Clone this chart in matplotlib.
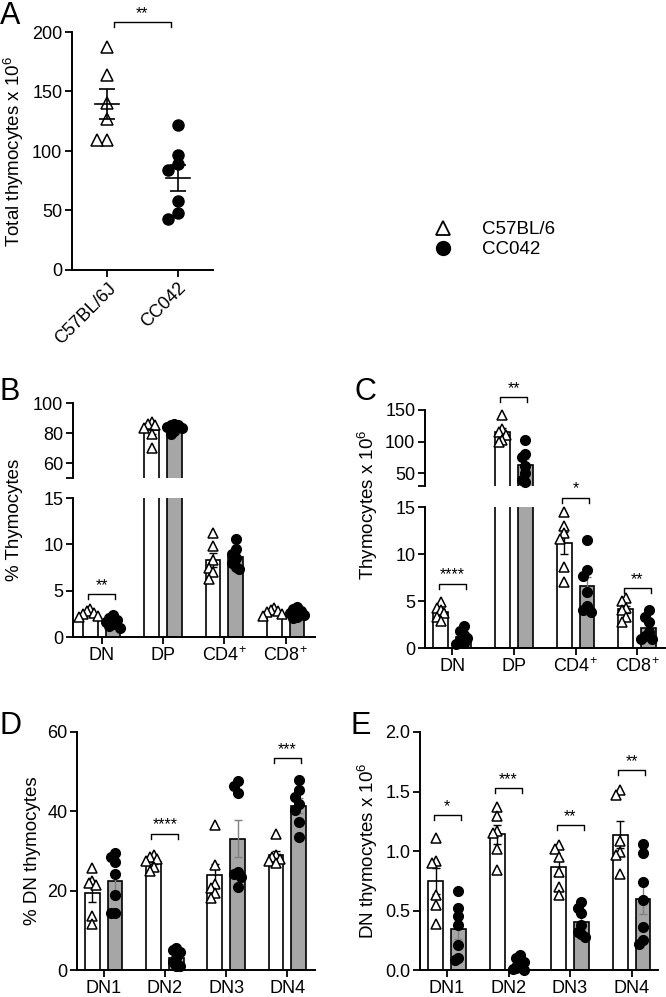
import numpy as np
import matplotlib.pyplot as plt
from matplotlib.lines import Line2D

plt.rcParams['font.family'] = ['Liberation Sans', 'DejaVu Sans']
plt.rcParams['mathtext.fontset'] = 'custom'
plt.rcParams['mathtext.rm'] = 'Liberation Sans'
plt.rcParams['mathtext.default'] = 'regular'

# ---- dane ----
# A: total thymocytes x 10^6
a_groups = ['C57BL/6J', 'CC042']
a_b6 = [187, 164, 140, 127, 109, 109]
a_cc = [121.5, 97, 84, 89, 58, 48, 43]

# B: % thymocytes
b_cats = ['DN', 'DP', 'CD4$^{+}$', 'CD8$^{+}$']
b_b6 = [[3.0, 2.8, 2.6, 2.5, 2.3, 2.2],
        [87, 86, 85, 83, 79, 70],
        [11.2, 9.8, 8.3, 7.5, 7.0, 6.3],
        [3.1, 2.9, 2.8, 2.7, 2.5, 2.3]]
b_cc = [[2.4, 2.1, 1.8, 1.6, 1.4, 1.2, 1.0],
        [86, 85.5, 85, 84, 83, 81, 79],
        [10.6, 9.5, 9.0, 8.5, 8.0, 7.6, 7.3],
        [3.2, 3.0, 2.8, 2.6, 2.4, 2.2, 2.0]]
b_sig = [(0, '**', 4.6)]

# C: thymocytes x 10^6
c_b6 = [[4.9, 4.3, 4.0, 3.7, 3.3, 2.9],
        [142, 120, 115, 110, 102, 100],
        [14.5, 13.0, 12.2, 11.6, 8.6, 7.0],
        [5.3, 5.0, 4.3, 4.0, 3.3, 2.8]]
c_cc = [[2.3, 1.8, 1.4, 1.1, 0.8, 0.5, 0.4],
        [103, 80, 76, 62, 50, 40, 36],
        [11.5, 8.3, 7.7, 6.0, 4.5, 4.0, 3.8],
        [4.0, 3.3, 2.8, 1.7, 1.3, 1.0, 1.0]]
c_sig_low = [(0, '****', 6.85), (2, '*', 16.0), (3, '**', 6.4)]
c_sig_up = [(1, '**', 171)]

# D: % DN thymocytes
d_cats = ['DN1', 'DN2', 'DN3', 'DN4']
d_b6 = [[25.8, 22.5, 22.0, 21.5, 13.5, 11.5],
        [29, 28.5, 28, 27.5, 26, 25],
        [36.5, 26.4, 21.8, 20.6, 19.5, 18.2],
        [34.2, 29, 28.5, 28, 27.5, 27]]
d_cc = [[29.5, 28.5, 27.3, 24.3, 18.9, 14.4, 14.4],
        [5.5, 5.0, 4.5, 3.0, 2.0, 1.0, 1.0],
        [47.6, 46.3, 44.5, 24.7, 24.3, 23.5, 21.0],
        [48, 45.3, 43.6, 41.9, 40.3, 37.3, 33.6]]
d_sig = [(1, '****', 34.4), (3, '***', 53.5)]

# E: DN thymocytes x 10^6
e_b6 = [[1.11, 0.92, 0.90, 0.63, 0.545, 0.39],
        [1.37, 1.29, 1.17, 1.15, 1.02, 0.84],
        [1.05, 1.02, 0.95, 0.82, 0.70, 0.63],
        [1.51, 1.47, 1.08, 0.99, 0.97, 0.81]]
e_cc = [[0.66, 0.52, 0.45, 0.38, 0.21, 0.10, 0.08],
        [0.13, 0.10, 0.07, 0.04, 0.02, 0.01, 0.0],
        [0.57, 0.52, 0.48, 0.38, 0.32, 0.30, 0.28],
        [1.06, 0.98, 0.74, 0.59, 0.36, 0.25, 0.22]]
e_sig = [(0, '*', 1.30), (1, '***', 1.53), (2, '**', 1.22), (3, '**', 1.68)]

W, H = 666, 997
fig = plt.figure(figsize=(W / 100, H / 100), dpi=100)

GREY = '#a6a6a6'
OFF = 0.185
BW = 0.24
TICK_FS = 13
XLAB_FS = 13
YLAB_FS = 13.5


def rect(l, r, t, b):
    return [l / W, 1 - b / H, (r - l) / W, (b - t) / H]


def sem(v):
    v = np.asarray(v, float)
    return v.std(ddof=1) / np.sqrt(len(v))


def swarm(vals, tol, step):
    # proste rozsuniecie punktow, zeby sie nie nakladaly
    vals = np.asarray(vals, float)
    offs = np.zeros(len(vals))
    done = []
    for i in np.argsort(-vals):
        for c in [0, -step, step, -2 * step, 2 * step, -3 * step, 3 * step]:
            if all(abs(vals[i] - vals[j]) >= tol or abs(c - offs[j]) >= step * 0.99 for j in done):
                offs[i] = c
                break
        done.append(i)
    return offs


def style(ax, bottom=True):
    for s in ['top', 'right']:
        ax.spines[s].set_visible(False)
    ax.spines['left'].set_linewidth(1.4)
    ax.spines['bottom'].set_linewidth(1.4)
    if not bottom:
        ax.spines['bottom'].set_visible(False)
        ax.tick_params(axis='x', bottom=False, labelbottom=False)
    ax.tick_params(direction='out', length=5, width=1.3, labelsize=TICK_FS, pad=2)
    ax.tick_params(axis='x', labelsize=XLAB_FS)


def bars(ax, b6, cc, ppu, lo=-1e9, hi=1e9):
    x = np.arange(len(b6))
    m1 = [np.mean(v) for v in b6]
    m2 = [np.mean(v) for v in cc]
    ax.bar(x - OFF, m1, BW, color='white', edgecolor='black', lw=1.2, zorder=1)
    ax.bar(x + OFF, m2, BW, color=GREY, edgecolor='black', lw=1.2, zorder=1)
    ax.errorbar(x - OFF, m1, yerr=[sem(v) for v in b6], fmt='none', ecolor='black',
                elinewidth=1, capsize=3, capthick=1, zorder=2)
    ax.errorbar(x + OFF, m2, yerr=[sem(v) for v in cc], fmt='none', ecolor='#808080',
                elinewidth=1, capsize=3, capthick=1, zorder=2)
    tol = 7.5 / ppu
    for i in range(len(b6)):
        v = np.asarray(b6[i], float)
        o = swarm(v, tol, 0.06)
        k = (v >= lo) & (v <= hi)
        ax.plot(i - OFF + o[k], v[k], ls='none', marker='^', ms=7.5, mfc='white',
                mec='black', mew=1.1, zorder=3, clip_on=False)
        v = np.asarray(cc[i], float)
        o = swarm(v, tol, 0.06)
        k = (v >= lo) & (v <= hi)
        ax.plot(i + OFF + o[k], v[k], ls='none', marker='o', ms=7, color='black',
                zorder=3, clip_on=False)


def bracket(ax, i, txt, y, ppu, half=0.22):
    d = 5 / ppu
    ax.plot([i - half, i - half, i + half, i + half], [y - d, y, y, y - d],
            color='black', lw=1, clip_on=False)
    ax.text(i, y + 1 / ppu, txt, ha='center', va='bottom', fontsize=11.5)


# ---- A ----
axA = fig.add_axes(rect(72, 213, 32, 270))
style(axA)
ppuA = 238 / 200
for i, (v, mk) in enumerate([(a_b6, '^'), (a_cc, 'o')]):
    v = np.asarray(v, float)
    o = swarm(v, 8 / ppuA, 0.14)
    if mk == '^':
        axA.plot(i + o, v, ls='none', marker='^', ms=8.5, mfc='white', mec='black', mew=1.1)
    else:
        axA.plot(i + o, v, ls='none', marker='o', ms=8, color='black')
    m = v.mean()
    axA.plot([i - 0.17, i + 0.17], [m, m], color='black', lw=1.2)
    axA.errorbar(i, m, yerr=sem(v), fmt='none', ecolor='black', elinewidth=1.2,
                 capsize=6, capthick=1.2)
axA.set_xlim(-0.5, 1.5)
axA.set_ylim(0, 200)
axA.set_yticks([0, 50, 100, 150, 200])
axA.set_xticks([0, 1])
axA.set_xticklabels(a_groups, rotation=45, ha='right', rotation_mode='anchor')
axA.set_ylabel('Total thymocytes x 10$^{6}$', fontsize=YLAB_FS, labelpad=4)
bracket(axA, 0.5, '**', 208, ppuA, half=0.41)

# ---- legenda ----
handles = [Line2D([], [], ls='none', marker='^', ms=10, mfc='white', mec='black', mew=1.3),
           Line2D([], [], ls='none', marker='o', ms=10, color='black')]
fig.legend(handles, ['C57BL/6', 'CC042'], loc='upper left', frameon=False,
           bbox_to_anchor=(422 / W, 1 - 212 / H), fontsize=13.5, handletextpad=1.5,
           labelspacing=0.15, borderpad=0, handlelength=1.2)

# ---- B ----
axBu = fig.add_axes(rect(73, 315, 403, 478))
axBl = fig.add_axes(rect(73, 315, 498, 637))
style(axBu, bottom=False)
style(axBl)
bars(axBu, b_b6, b_cc, 75 / 50, lo=50)
bars(axBl, b_b6, b_cc, 139 / 15, hi=15)
for ax in (axBu, axBl):
    ax.set_xlim(-0.47, 3.48)
axBu.set_ylim(50, 100)
axBu.set_yticks([50, 60, 80, 100])
axBu.set_yticklabels(['', '60', '80', '100'])
axBl.set_ylim(0, 15)
axBl.set_yticks([0, 5, 10, 15])
axBl.set_xticks(range(4))
axBl.set_xticklabels(b_cats)
for i, t, y in b_sig:
    bracket(axBl, i, t, y, 139 / 15)
fig.text(15 / W, 1 - 520 / H, '% Thymocytes', rotation=90, ha='center', va='center', fontsize=YLAB_FS)

# ---- C ----
axCu = fig.add_axes(rect(425, 665, 410, 486))
axCl = fig.add_axes(rect(425, 665, 507, 648))
style(axCu, bottom=False)
style(axCl)
bars(axCu, c_b6, c_cc, 76 / 120, lo=30)
bars(axCl, c_b6, c_cc, 141 / 15, hi=15)
for ax in (axCu, axCl):
    ax.set_xlim(-0.44, 3.45)
axCu.set_ylim(30, 150)
axCu.set_yticks([30, 50, 100, 150])
axCu.set_yticklabels(['', '50', '100', '150'])
axCl.set_ylim(0, 15)
axCl.set_yticks([0, 5, 10, 15])
axCl.set_xticks(range(4))
axCl.set_xticklabels(b_cats)
for i, t, y in c_sig_low:
    bracket(axCl, i, t, y, 141 / 15)
for i, t, y in c_sig_up:
    bracket(axCu, i, t, y, 76 / 120)
fig.text(368 / W, 1 - 505 / H, 'Thymocytes x 10$^{6}$', rotation=90, ha='center', va='center', fontsize=YLAB_FS)

# ---- D ----
axD = fig.add_axes(rect(77, 315, 732, 970))
style(axD)
bars(axD, d_b6, d_cc, 238 / 60)
axD.set_xlim(-0.435, 3.45)
axD.set_ylim(0, 60)
axD.set_yticks([0, 20, 40, 60])
axD.set_xticks(range(4))
axD.set_xticklabels(d_cats)
for i, t, y in d_sig:
    bracket(axD, i, t, y, 238 / 60)
axD.set_ylabel('% DN thymocytes', fontsize=YLAB_FS, labelpad=4)

# ---- E ----
axE = fig.add_axes(rect(420, 658, 732, 970))
style(axE)
bars(axE, e_b6, e_cc, 238 / 2)
axE.set_xlim(-0.44, 3.43)
axE.set_ylim(0, 2)
axE.set_yticks([0, 0.5, 1.0, 1.5, 2.0])
axE.set_yticklabels(['0.0', '0.5', '1.0', '1.5', '2.0'])
axE.set_xticks(range(4))
axE.set_xticklabels(d_cats)
for i, t, y in e_sig:
    bracket(axE, i, t, y, 238 / 2)
axE.set_ylabel('DN thymocytes x 10$^{6}$', fontsize=YLAB_FS, labelpad=4)

# ---- litery paneli ----
for x, y, s in [(0, 1, 'A'), (0, 377, 'B'), (354, 377, 'C'), (0, 711, 'D'), (351, 711, 'E')]:
    fig.text(x / W, 1 - y / H, s, fontsize=22, ha='left', va='top')

fig.savefig('out.png', dpi=100)
